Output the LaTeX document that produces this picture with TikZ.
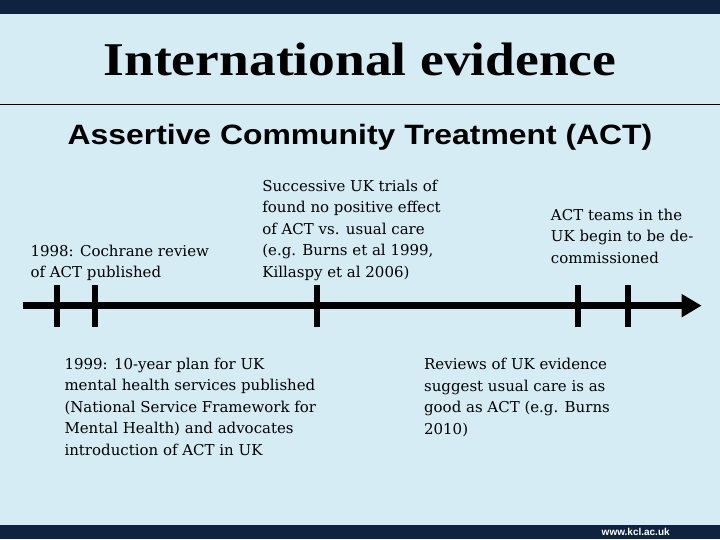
\documentclass[tikz,border=0pt]{standalone}
\usepackage{fontspec}
\setmainfont{DejaVu Serif}
\newfontfamily\titlefont[FakeStretch=1.14]{Liberation Serif}
\newfontfamily\subfont{Liberation Sans}
\newfontfamily\subwidefont[FakeStretch=1.14]{Liberation Sans}
\usetikzlibrary{arrows.meta, positioning}

\definecolor{slidebg}{HTML}{D5ECF4}
\definecolor{barblue}{HTML}{0F2340}

\begin{document}
\begin{tikzpicture}[
        x=1pt, y=-1pt,
        note/.style={anchor=north west, align=left, inner sep=0pt,
                     font=\fontsize{15}{21.5}\selectfont},
        tick/.style={line width=6pt},
        axis/.style={line width=7pt, -{Triangle[length=20pt, width=22pt]}}
        ]
        % background and bars
        \fill[slidebg] (0,0) rectangle (720,540);
        \fill[barblue] (0,0) rectangle (720,14);
        \fill[barblue] (0,526) rectangle (720,540);
        \node[text=white, font=\subfont\bfseries\fontsize{10}{12}\selectfont] (url) at (636,533) {www.kcl.ac.uk};
        % headings
        \node[font=\titlefont\bfseries\fontsize{47}{50}\selectfont] (title) at (360,60) {International evidence};
        \draw[line width=0.8pt] (0,105) -- (720,105);
        \node[font=\subwidefont\bfseries\fontsize{28}{30}\selectfont] (sub) at (360,137) {Assertive Community Treatment (ACT)};
        % timeline
        \coordinate (start) at (23,306);
        \coordinate (stop) at (702,306);
        \draw[axis] (start) -- (stop);
        \foreach \name/\x in {ta/57, tb/95, tc/317, td/578, te/628} {
            \coordinate (\name) at (\x,306);
            \draw[tick] ([yshift=-21pt]\name) -- ([yshift=21pt]\name);
        }
        % events above
        \node[note] (cochrane) at (30,245) {1998: Cochrane review\\of ACT published};
        \node[note] (trials) at (262,180) {Successive UK trials of\\found no positive effect\\of ACT vs. usual care\\(e.g. Burns et al 1999,\\Killaspy et al 2006)};
        \node[note] (decomm) at (551,209) {ACT teams in the\\UK begin to be de-\\commissioned};
        % events below
        \node[note] (plan) at (64,358) {1999: 10-year plan for UK\\mental health services published\\(National Service Framework for\\Mental Health) and advocates\\introduction of ACT in UK};
        \node[note] (reviews) at (424,358.5) {Reviews of UK evidence\\suggest usual care is as\\good as ACT (e.g. Burns\\2010)};
    \end{tikzpicture}
\end{document}
